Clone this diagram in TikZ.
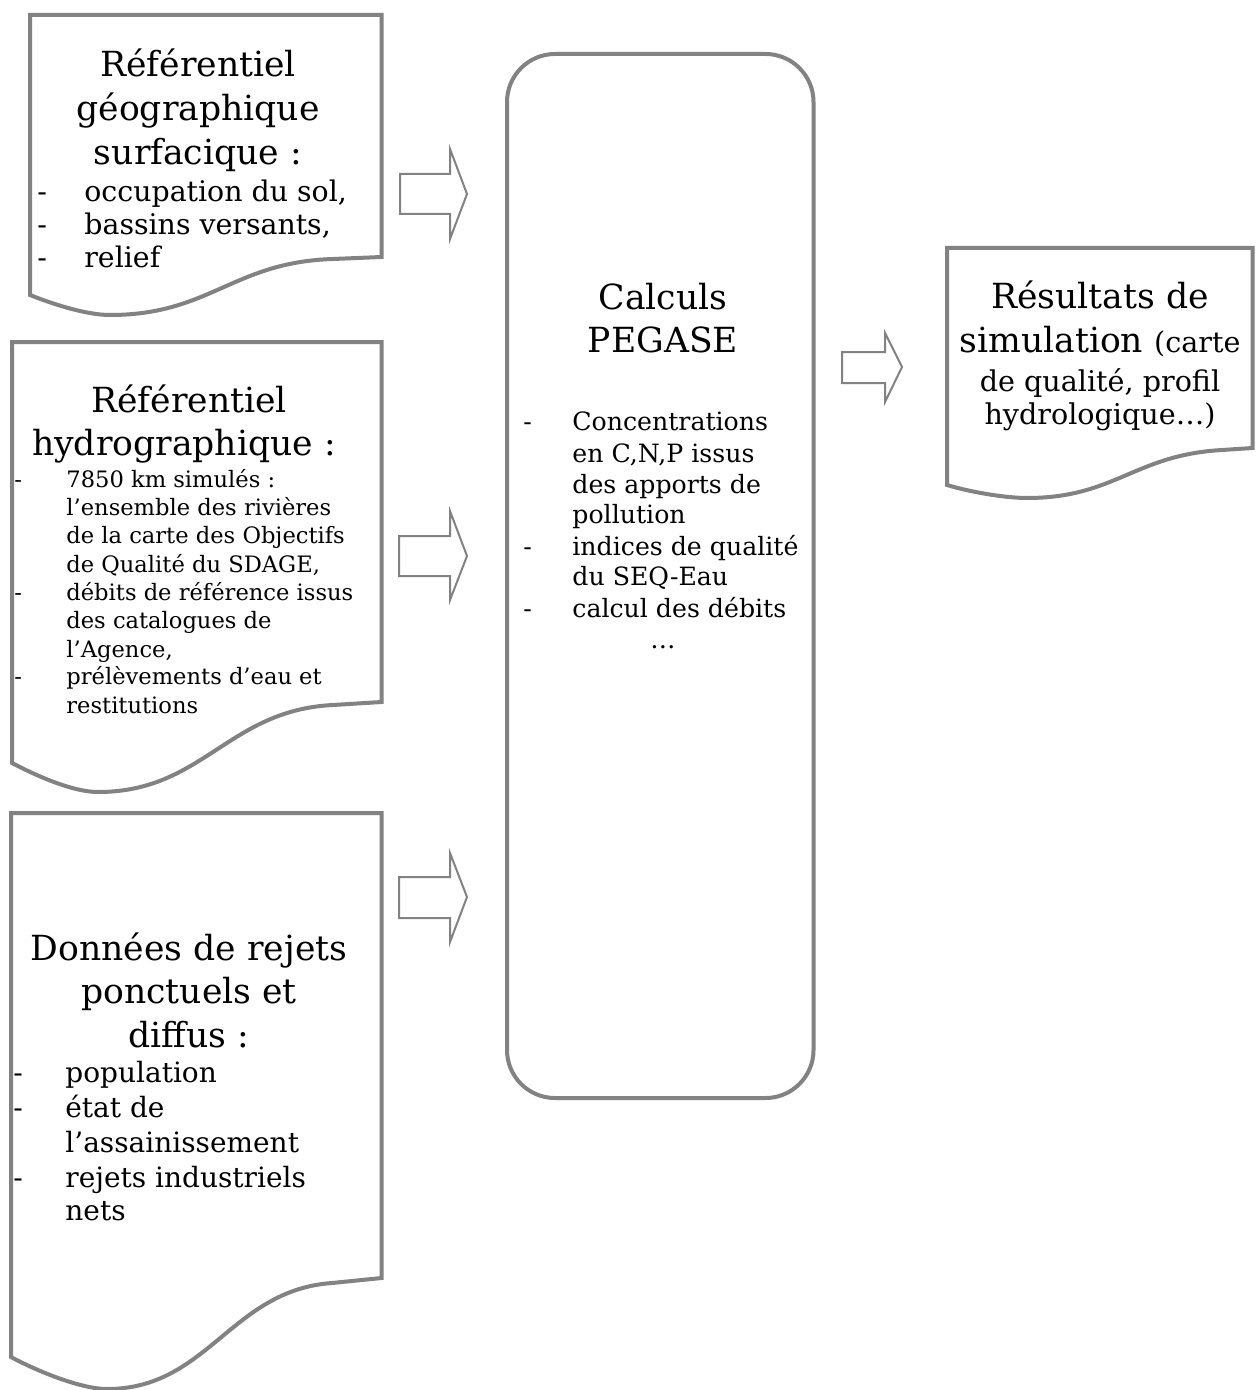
\documentclass[tikz,border=0pt]{standalone}
\usepackage{fontspec}
\setmainfont{DejaVu Serif}
\definecolor{boxgray}{HTML}{828282}
\begin{document}
\begin{tikzpicture}[x=0.5pt,y=-0.5pt,
  shapeline/.style={draw=boxgray, line width=2pt, line join=miter, fill=white},
  arrowline/.style={draw=boxgray, line width=1pt, line join=miter, fill=white},
  ttl/.style={inner sep=0pt, anchor=base, font=\fontsize{17.3}{20}\selectfont},
  sa/.style={inner sep=0pt, anchor=base west, font=\fontsize{14.2}{16}\selectfont},
  sb/.style={inner sep=0pt, anchor=base west, font=\fontsize{11.3}{13}\selectfont},
  sc/.style={inner sep=0pt, anchor=base west, font=\fontsize{14}{16}\selectfont},
  sp/.style={inner sep=0pt, anchor=base west, font=\fontsize{12.6}{14}\selectfont},
  sr/.style={inner sep=0pt, anchor=base, font=\fontsize{14.3}{16}\selectfont}]
\useasboundingbox (0,0) rectangle (1255,1390);
\fill[white] (0,0) rectangle (1255,1390);

% ---------- document shapes ----------
\draw[shapeline] (30,15) -- (381.5,15) -- (381.5,257) -- (333,259)
  .. controls (233,262) and (210,315) .. (110,315)
  .. controls (85,315) and (50,303) .. (30,295) -- cycle;
\draw[shapeline] (12,342) -- (381.5,342) -- (381.5,702) -- (333,705)
  .. controls (228,710) and (203,792) .. (98,792)
  .. controls (72,792) and (35,775) .. (12,763) -- cycle;
\draw[shapeline] (11,813) -- (381.5,813) -- (381.5,1278) -- (332,1283)
  .. controls (231,1290) and (208,1389) .. (107,1389)
  .. controls (80,1389) and (35,1370) .. (11,1357) -- cycle;
\draw[shapeline] (947,248) -- (1252.5,248) -- (1252.5,448) -- (1222,450)
  .. controls (1134,455) and (1115,498) .. (1027,498)
  .. controls (1005,498) and (970,492) .. (947,485) -- cycle;
% ---------- process box ----------
\draw[shapeline, rounded corners=24pt] (507,54) rectangle (813.5,1098);

% ---------- block arrows ----------
\draw[arrowline] (400,174) -- (450,174) -- (450,149) -- (467,194) -- (450,239) -- (450,214) -- (400,214) -- cycle;
\draw[arrowline] (399,536) -- (450,536) -- (450,511) -- (467,556) -- (450,600) -- (450,576) -- (399,576) -- cycle;
\draw[arrowline] (399,877) -- (450,877) -- (450,853) -- (467,897) -- (450,942) -- (450,918) -- (399,918) -- cycle;
\draw[arrowline] (842,352) -- (885,352) -- (885,333) -- (902,367) -- (885,402) -- (885,383) -- (842,383) -- cycle;

% ---------- box 1 text ----------
\node[ttl] (b1t1) at (198,77) {Référentiel};
\node[ttl] (b1t2) at (198,121) {géographique};
\node[ttl] (b1t3) at (198,165) {surfacique :};
\node[sa] (b1d1) at (37,202) {-};
\node[sa] (b1l1) at (84,202) {occupation du sol,};
\node[sa] (b1d2) at (37,235) {-};
\node[sa] (b1l2) at (84,235) {bassins versants,};
\node[sa] (b1d3) at (37,268) {-};
\node[sa] (b1l3) at (84,268) {relief};

% ---------- box 2 text ----------
\node[ttl] (b2t1) at (189,412) {Référentiel};
\node[ttl] (b2t2) at (184,455) {hydrographique :};
\node[sb] (b2d1) at (14,487) {-};
\node[sb] (b2l1) at (66,487) {7850 km simulés :};
\node[sb] (b2l2) at (66,515) {l’ensemble des rivières};
\node[sb] (b2l3) at (66,543) {de la carte des Objectifs};
\node[sb] (b2l4) at (66,572) {de Qualité du SDAGE,};
\node[sb] (b2d2) at (14,600) {-};
\node[sb] (b2l5) at (66,600) {débits de référence issus};
\node[sb] (b2l6) at (66,628) {des catalogues de};
\node[sb] (b2l7) at (66,657) {l’Agence,};
\node[sb] (b2d3) at (14,684) {-};
\node[sb] (b2l8) at (66,684) {prélèvements d’eau et};
\node[sb] (b2l9) at (66,713) {restitutions};

% ---------- box 3 text ----------
\node[ttl] (b3t1) at (189,960) {Données de rejets};
\node[ttl] (b3t2) at (189,1003) {ponctuels et};
\node[ttl] (b3t3) at (189,1047) {diffus :};
\node[sc] (b3d1) at (13,1082) {-};
\node[sc] (b3l1) at (65,1082) {population};
\node[sc] (b3d2) at (13,1117) {-};
\node[sc] (b3l2) at (65,1117) {état de};
\node[sc] (b3l3) at (65,1152) {l’assainissement};
\node[sc] (b3d3) at (13,1187) {-};
\node[sc] (b3l4) at (65,1187) {rejets industriels};
\node[sc] (b3l5) at (65,1220) {nets};

% ---------- PEGASE text ----------
\node[ttl] (pt1) at (663,310) {Calculs};
\node[ttl] (pt2) at (663,352) {PEGASE};
\node[sp] (pd1) at (523,430) {-};
\node[sp] (pl1) at (572,430) {Concentrations};
\node[sp] (pl2) at (572,462) {en C,N,P issus};
\node[sp] (pl3) at (572,493) {des apports de};
\node[sp] (pl4) at (572,523) {pollution};
\node[sp] (pd2) at (523,555) {-};
\node[sp] (pl5) at (572,555) {indices de qualité};
\node[sp] (pl6) at (572,585) {du SEQ-Eau};
\node[sp] (pd3) at (523,617) {-};
\node[sp] (pl7) at (572,617) {calcul des débits};
\node[sp, anchor=base] (pl8) at (663,648) {…};

% ---------- results text ----------
\node[ttl] (rt1) at (1100,308) {Résultats de};
\node[ttl] (rt2) at (1100,352) {simulation {\fontsize{14.3}{16}\selectfont (carte}};
\node[sr] (rl1) at (1100,391) {de qualité, profil};
\node[sr] (rl2) at (1100,424) {hydrologique…)};
\end{tikzpicture}
\end{document}
